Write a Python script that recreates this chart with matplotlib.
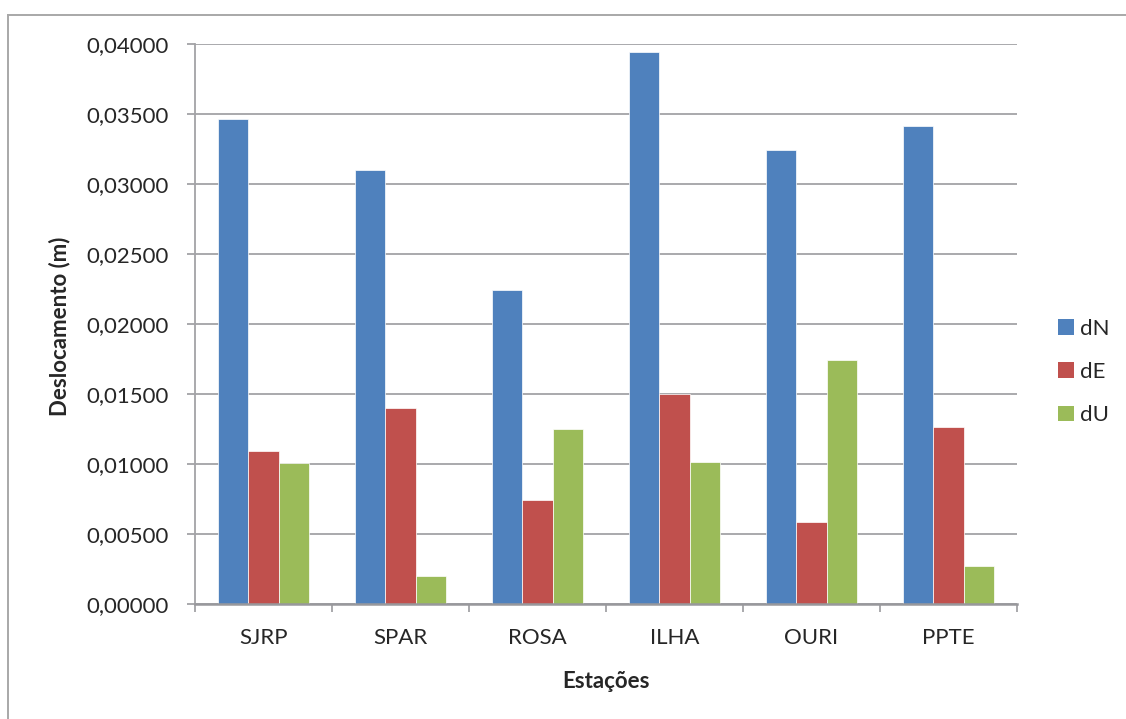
import matplotlib
matplotlib.use("Agg")
import matplotlib.pyplot as plt
import numpy as np
from matplotlib.lines import Line2D
from matplotlib.patches import Patch
from matplotlib.ticker import FuncFormatter, FixedLocator

plt.rcParams['font.family'] = ['Lato', 'DejaVu Sans']

# Station codes and displacement components (metres)
estacoes = ["SJRP", "SPAR", "ROSA", "ILHA", "OURI", "PPTE"]
dN = [0.03465, 0.03100, 0.02245, 0.03940, 0.03242, 0.03413]
dE = [0.01095, 0.01400, 0.00745, 0.01503, 0.00585, 0.01264]
dU = [0.01010, 0.00200, 0.01248, 0.01012, 0.01740, 0.00275]
series_names = ["dN", "dE", "dU"]
series_colors = ["#4F81BD", "#C0504D", "#9BBB59"]
y_ticks = [0.0, 0.005, 0.01, 0.015, 0.02, 0.025, 0.03, 0.035, 0.04]

W, H = 1126, 719
fig = plt.figure(figsize=(W / 100, H / 100), dpi=100)
ax = fig.add_axes([195 / W, 1 - 604 / H, (1017 - 195) / W, (604 - 44) / H])

grid_color = "#A3A3A6"
text_color = "#262626"

x = np.arange(len(estacoes))
bw = 1 / 4.5
for i, (name, vals, col) in enumerate(zip(series_names, [dN, dE, dU], series_colors)):
    ax.bar(x + (i - 1) * bw, vals, width=bw, color=col, edgecolor="#FFFFFF",
           linewidth=0.5, label=name, zorder=3)

ax.set_xlim(-0.5, len(estacoes) - 0.5)
ax.set_ylim(0, 0.04)
ax.yaxis.set_major_locator(FixedLocator(y_ticks))
ax.yaxis.set_major_formatter(FuncFormatter(lambda v, p: f"{v:.5f}".replace(".", ",")))
ax.grid(axis="y", color=grid_color, linewidth=1.3, zorder=0)
ax.set_axisbelow(True)

for s in ["top", "right"]:
    ax.spines[s].set_visible(False)
ax.spines["left"].set_color(grid_color)
ax.spines["left"].set_linewidth(1.3)
ax.spines["bottom"].set_color("#98989C")
ax.spines["bottom"].set_linewidth(1.8)
ax.spines["bottom"].set_zorder(4)

ax.set_xticks(x)
ax.set_xticklabels(estacoes)
ax.set_xticks(np.arange(-0.5, len(estacoes)), minor=True)
ax.tick_params(axis="x", which="major", length=0, pad=17, labelsize=16, labelcolor=text_color)
ax.tick_params(axis="x", which="minor", length=6, width=1.3, color=grid_color, direction="out")
ax.tick_params(axis="y", length=6, width=1.3, color=grid_color, direction="out",
               pad=13, labelsize=16, labelcolor=text_color)

fig.text(60 / W, 1 - 326 / H, "Deslocamento (m)", rotation=90, ha="center", va="center",
         fontsize=16, fontweight="bold", color=text_color)
fig.text(605.5 / W, 1 - 681 / H, "Estações", ha="center", va="center",
         fontsize=16, fontweight="bold", color=text_color)

handles = [Patch(facecolor=c, edgecolor="none") for c in series_colors]
fig.legend(handles, series_names, loc="center left", bbox_to_anchor=(1058 / W, 1 - 372 / H),
           frameon=False, fontsize=16, handlelength=0.7, handleheight=0.7,
           handletextpad=0.3, labelspacing=1.05, borderpad=0, borderaxespad=0,
           labelcolor=text_color)

# outer chart frame (left and top edges)
fig.add_artist(Line2D([8 / W, 8 / W], [0, 1 - 15 / H], transform=fig.transFigure,
                      color="#A8A8A8", linewidth=1.4))
fig.add_artist(Line2D([8 / W, 1], [1 - 15 / H, 1 - 15 / H], transform=fig.transFigure,
                      color="#A8A8A8", linewidth=1.4))

fig.savefig("out.png", dpi=100, facecolor="white")
